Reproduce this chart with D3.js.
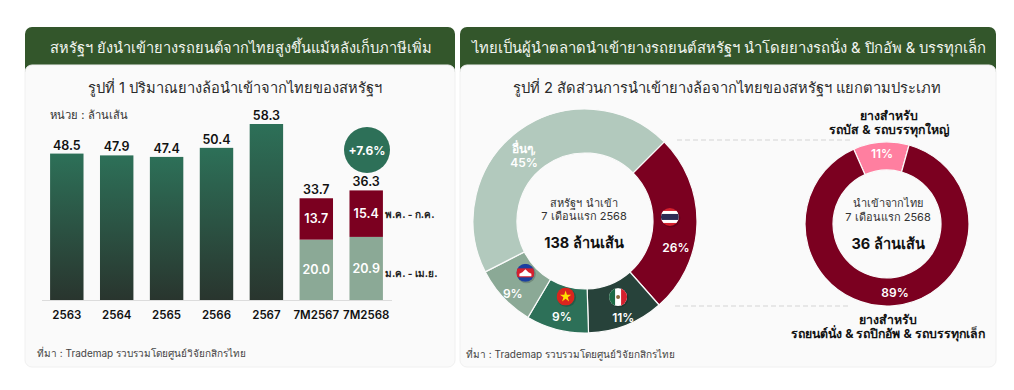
<!DOCTYPE html>
<html>
<head>
<meta charset="utf-8">
<script src="https://cdn.jsdelivr.net/npm/d3@7"></script>
<style>
  html, body { margin: 0; padding: 0; background: #fff; }
  svg { display: block; }
  text { font-family: Inter, "Noto Sans", "DejaVu Sans", sans-serif; }
</style>
</head>
<body>
<svg id="chart" width="1014" height="390"></svg>
<script>
const years = ["2563", "2564", "2565", "2566", "2567", "7M2567", "7M2568"];
const totals = [48.5, 47.9, 47.4, 50.4, 58.3, 33.7, 36.3];
const janApr = [null, null, null, null, null, 20.0, 20.9];
const mayJul = [null, null, null, null, null, 13.7, 15.4];

const countryNames = ["ไทย", "เม็กซิโก", "เวียดนาม", "กัมพูชา", "อื่นๆ"];
const countryShares = [26, 11, 9, 9, 45];
const countryColors = ["#7b0020", "#27423a", "#2d7058", "#8ba996", "#b2c9bd"];

const typeNames = ["รถบัส", "รถยนต์นั่ง"];
const typeShares = [11, 89];
const typeColors = ["#ff7fa0", "#7b0020"];

const svg = d3.select("#chart");
const defs = svg.append("defs");

const barGrad = defs.append("linearGradient")
  .attr("id", "barGrad")
  .attr("x1", 0).attr("y1", 0).attr("x2", 0).attr("y2", 1);
barGrad.append("stop").attr("offset", "0%").attr("stop-color", "#2d7058");
barGrad.append("stop").attr("offset", "100%").attr("stop-color", "#29352e");

// panels
function panel(x, w, title, titleSize, sub, subX) {
  svg.append("rect").attr("x", x).attr("y", 27).attr("width", w).attr("height", 60)
    .attr("rx", 7).attr("fill", "#33562b");
  svg.append("rect").attr("x", x).attr("y", 65).attr("width", w).attr("height", 302)
    .attr("rx", 7).attr("fill", "#fafafa").attr("stroke", "#f0f0f0");
  svg.append("text").attr("x", x + w / 2 + 1).attr("y", 53).attr("text-anchor", "middle")
    .attr("font-size", titleSize).attr("fill", "#f2f5f0").text(title);
  svg.append("text").attr("x", subX).attr("y", 93).attr("text-anchor", "middle")
    .attr("font-size", 14.7).attr("fill", "#2a2a2a").text(sub);
}
panel(25, 430, "สหรัฐฯ ยังนำเข้ายางรถยนต์จากไทยสูงขึ้นแม้หลังเก็บภาษีเพิ่ม", 14.6, "รูปที่ 1 ปริมาณยางล้อนำเข้าจากไทยของสหรัฐฯ", 235);
panel(460, 536, "ไทยเป็นผู้นำตลาดนำเข้ายางรถยนต์สหรัฐฯ นำโดยยางรถนั่ง & ปิกอัพ & บรรทุกเล็ก", 14.8, "รูปที่ 2 สัดส่วนการนำเข้ายางล้อจากไทยของสหรัฐฯ แยกตามประเภท", 727);

function label(x, y, str, size, weight, fill, anchor) {
  return svg.append("text").attr("x", x).attr("y", y)
    .attr("text-anchor", anchor || "middle")
    .attr("font-size", size).attr("font-weight", weight || 400)
    .attr("fill", fill || "#222").text(str);
}

label(50, 119, "หน่วย : ล้านเส้น", 11.2, 400, "#333", "start");
label(37, 357, "ที่มา : Trademap รวบรวมโดยศูนย์วิจัยกสิกรไทย", 10, 400, "#444", "start");
label(466, 358, "ที่มา : Trademap รวบรวมโดยศูนย์วิจัยกสิกรไทย", 10, 400, "#444", "start");

// bars
const x = d3.scaleBand().domain(years).range([41.5, 391.5]).paddingInner(0.33).paddingOuter(0.172);
const y = d3.scaleLinear().domain([0, 58.3]).range([300, 124]);

const rows = years.map((year, i) => ({ year, total: totals[i], low: janApr[i], high: mayJul[i] }));

svg.append("g").selectAll("rect").data(rows.filter(d => d.low === null)).join("rect")
  .attr("x", d => x(d.year)).attr("y", d => y(d.total))
  .attr("width", x.bandwidth()).attr("height", d => y(0) - y(d.total))
  .attr("fill", "url(#barGrad)");

const stacked = rows.filter(d => d.low !== null);
svg.append("g").selectAll("rect").data(stacked).join("rect")
  .attr("x", d => x(d.year)).attr("y", d => y(d.low))
  .attr("width", x.bandwidth()).attr("height", d => y(0) - y(d.low))
  .attr("fill", "#8ba996");
svg.append("g").selectAll("rect").data(stacked).join("rect")
  .attr("x", d => x(d.year)).attr("y", d => y(d.total))
  .attr("width", x.bandwidth()).attr("height", d => y(d.low) - y(d.total))
  .attr("fill", "#7b0020");

svg.append("g").selectAll("text").data(rows).join("text")
  .attr("x", d => x(d.year) + x.bandwidth() / 2).attr("y", d => y(d.total) - 4)
  .attr("text-anchor", "middle").attr("font-size", 12.5).attr("font-weight", 600)
  .attr("fill", "#111").text(d => d.total.toFixed(1));

svg.append("g").selectAll("text").data(stacked).join("text")
  .attr("x", d => x(d.year) + x.bandwidth() / 2).attr("y", d => y(d.low / 2) + 4.5)
  .attr("text-anchor", "middle").attr("font-size", 12.5).attr("font-weight", 600)
  .attr("fill", "#fff").text(d => d.low.toFixed(1));
svg.append("g").selectAll("text").data(stacked).join("text")
  .attr("x", d => x(d.year) + x.bandwidth() / 2).attr("y", d => y(d.low + d.high / 2) + 4.5)
  .attr("text-anchor", "middle").attr("font-size", 12.5).attr("font-weight", 600)
  .attr("fill", "#fff").text(d => d.high.toFixed(1));

const xAxis = svg.append("g").attr("transform", "translate(0,300)")
  .call(d3.axisBottom(x).tickSize(0).tickPadding(11));
xAxis.select(".domain").attr("stroke", "#dcdcdc");
xAxis.selectAll("text").attr("font-size", 11.5).attr("font-weight", 600).attr("fill", "#111")
  .style("font-family", 'Inter, "Noto Sans", sans-serif');

label(385, 218, "พ.ค. - ก.ค.", 10, 700, "#222", "start");
label(385, 277, "ม.ค. - เม.ย.", 10, 700, "#222", "start");

svg.append("circle").attr("cx", 367).attr("cy", 150).attr("r", 23).attr("fill", "#2d7058");
label(367, 154.5, "+7.6%", 12, 700, "#fff");

// donuts
function donut(cx, cy, rOuter, rInner, start, shares, colors) {
  const pie = d3.pie().sort(null).value(d => d)
    .startAngle(start).endAngle(start + 2 * Math.PI);
  const arc = d3.arc().innerRadius(rInner).outerRadius(rOuter);
  const g = svg.append("g").attr("transform", `translate(${cx},${cy})`);
  g.selectAll("path").data(pie(shares)).join("path")
    .attr("d", arc).attr("fill", (d, i) => colors[i])
    .attr("stroke", "#fafafa").attr("stroke-width", 1.2);
  return { g, arcs: pie(shares) };
}

const cx1 = 585, cy1 = 221, cx2 = 887, cy2 = 224;
const d1 = donut(cx1, cy1, 112, 68, Math.PI / 4, countryShares, countryColors);
const d2 = donut(cx2, cy2, 82, 54, -24 * Math.PI / 180, typeShares, typeColors);

function polar(cx, cy, r, a) {
  return [cx + r * Math.sin(a), cy - r * Math.cos(a)];
}
const midAngles = [0, 1, 2, 3].map(i => (d1.arcs[i].startAngle + d1.arcs[i].endAngle) / 2);

// flags sit in the ring, the percent label further out; nudged per slice
const flagRadius = [85, 83, 78, 79];
const flagNudge = [-0.079, -0.033, 0, 0.038];
const pctRadius = [94.6, 104, 98.7, 102];
const pctNudge = [0.248, 0, -0.016, -0.03];

function flag(i, pos) {
  const r = 9;
  const g = svg.append("g").attr("transform", `translate(${pos[0]},${pos[1]})`);
  const id = "flagClip" + i;
  defs.append("clipPath").attr("id", id).append("circle").attr("r", r);
  g.append("circle").attr("cx", 1).attr("cy", 1).attr("r", r + 0.5).attr("fill", "#000").attr("opacity", 0.18);
  const inner = g.append("g").attr("clip-path", `url(#${id})`);
  const band = (yy, h, c, xx, w) => inner.append("rect")
    .attr("x", xx === undefined ? -r : xx).attr("y", yy)
    .attr("width", w === undefined ? 2 * r : w).attr("height", h).attr("fill", c);
  if (i === 0) {
    band(-9, 18, "#d5202e");
    band(-6, 12, "#fff");
    band(-3, 6, "#2b2b55");
  } else if (i === 1) {
    band(-9, 18, "#fff");
    band(-9, 18, "#1d6b45", -9, 6);
    band(-9, 18, "#d5202e", 3, 6);
    inner.append("circle").attr("r", 2).attr("fill", "#8a6a3a");
  } else if (i === 2) {
    band(-9, 18, "#da251d");
    inner.append("path").attr("d", d3.symbol(d3.symbolStar, 40)()).attr("fill", "#ffdf00");
  } else {
    band(-9, 18, "#1b3fa0");
    band(-4.5, 9, "#d5202e");
    inner.append("path").attr("d", "M-6,3.5V1L-3,-.5L0,-3.5L3,-.5L6,1V3.5Z").attr("fill", "#fff");
  }
}
midAngles.forEach((a, i) => flag(i, polar(cx1, cy1, flagRadius[i], a + flagNudge[i])));

midAngles.forEach((a, i) => {
  const p = polar(cx1, cy1, pctRadius[i], a + pctNudge[i]);
  label(p[0], p[1] + 4.5, countryShares[i] + "%", 12, 600, "#fff");
});
label(524, 153, countryNames[4] + ",", 12, 600, "#fff");
label(524, 167, countryShares[4] + "%", 12, 600, "#fff");

label(584, 207, "สหรัฐฯ นำเข้า", 11, 400, "#333");
label(584, 220, "7 เดือนแรก 2568", 11, 400, "#333");
label(584, 248, "138 ล้านเส้น", 14.5, 700, "#111");

label(888, 207, "นำเข้าจากไทย", 11, 400, "#333");
label(888, 221, "7 เดือนแรก 2568", 11, 400, "#333");
label(888, 249, "36 ล้านเส้น", 14.5, 700, "#111");

label(882, 158, typeShares[0] + "%", 12, 600, "#fff");
label(895, 297, typeShares[1] + "%", 12, 600, "#fff");

label(889, 120, "ยางสำหรับ", 12.3, 700, "#111");
label(889, 134, "รถบัส & รถบรรทุกใหญ่", 12.3, 700, "#111");
label(888, 324, "ยางสำหรับ", 12.3, 700, "#111");
label(888, 338, "รถยนต์นั่ง & รถปิกอัพ & รถบรรทุกเล็ก", 12.3, 700, "#111");

// dashed leader lines between the donuts
[[677, 850, 140], [675, 848, 306]].forEach(l => {
  svg.append("line").attr("x1", l[0]).attr("x2", l[1]).attr("y1", l[2]).attr("y2", l[2])
    .attr("stroke", "#d4d4d4").attr("stroke-width", 1.2).attr("stroke-dasharray", "5,3");
});
</script>
</body>
</html>
